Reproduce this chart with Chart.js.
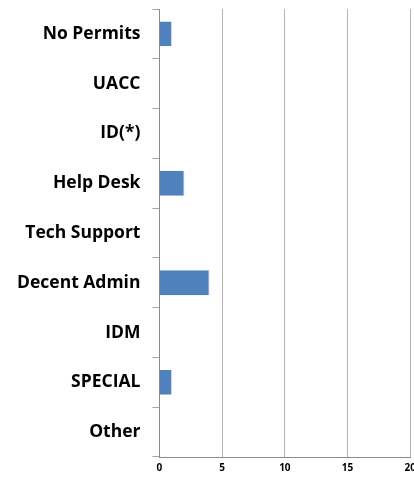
<!DOCTYPE html>
<html>
<head>
<meta charset="utf-8">
<script src="https://cdn.jsdelivr.net/npm/chart.js@4"></script>
<style>
  html, body { margin: 0; padding: 0; background: #fff; overflow: hidden; }
  #wrap { width: 421px; height: 479px; }
</style>
</head>
<body>
<div id="wrap"><canvas id="chart"></canvas></div>
<script>
// категории и значения с картинки
const categories = ['No Permits', 'UACC', 'ID(*)', 'Help Desk', 'Tech Support', 'Decent Admin', 'IDM', 'SPECIAL', 'Other'];
const counts = [1, 0, 0, 2, 0, 4, 0, 1, 0];
const xTicks = [0, 5, 10, 15, 20];

const ctx = document.getElementById('chart').getContext('2d');

new Chart(ctx, {
    type: 'bar',
    data: {
        labels: categories,
        datasets: [{
            data: counts,
            backgroundColor: '#4f81bd',
            borderColor: '#c6d9f1',
            borderWidth: { right: 1, top: 0, bottom: 0, left: 0 },
            barPercentage: 0.5,
            categoryPercentage: 1
        }]
    },
    options: {
        indexAxis: 'y',
        responsive: true,
        maintainAspectRatio: false,
        animation: false,
        layout: { padding: { top: 9, left: 5, bottom: 0, right: 0 } },
        plugins: { legend: { display: false }, tooltip: { enabled: false } },
        scales: {
            x: {
                min: 0,
                max: 20,
                afterBuildTicks: axis => { axis.ticks = xTicks.map(v => ({ value: v })); },
                grid: { color: '#b4b4b4', lineWidth: 1, drawTicks: false },
                border: { color: '#8c8c8c' },
                ticks: {
                    color: '#000',
                    padding: 5,
                    maxRotation: 0,
                    font: { family: 'Open Sans', weight: 'bold', size: 10 }
                }
            },
            y: {
                // убираем лишний отступ сверху/снизу от подписей
                afterFit: axis => { axis.paddingTop = 0; axis.paddingBottom = 0; },
                grid: { drawOnChartArea: false, offset: true, tickLength: 7, color: '#a6a6a6' },
                border: { color: '#8c8c8c' },
                ticks: {
                    color: '#000',
                    padding: 12,
                    font: { family: 'Open Sans', weight: 'bold', size: 17.5 }
                }
            }
        }
    }
});
</script>
</body>
</html>
